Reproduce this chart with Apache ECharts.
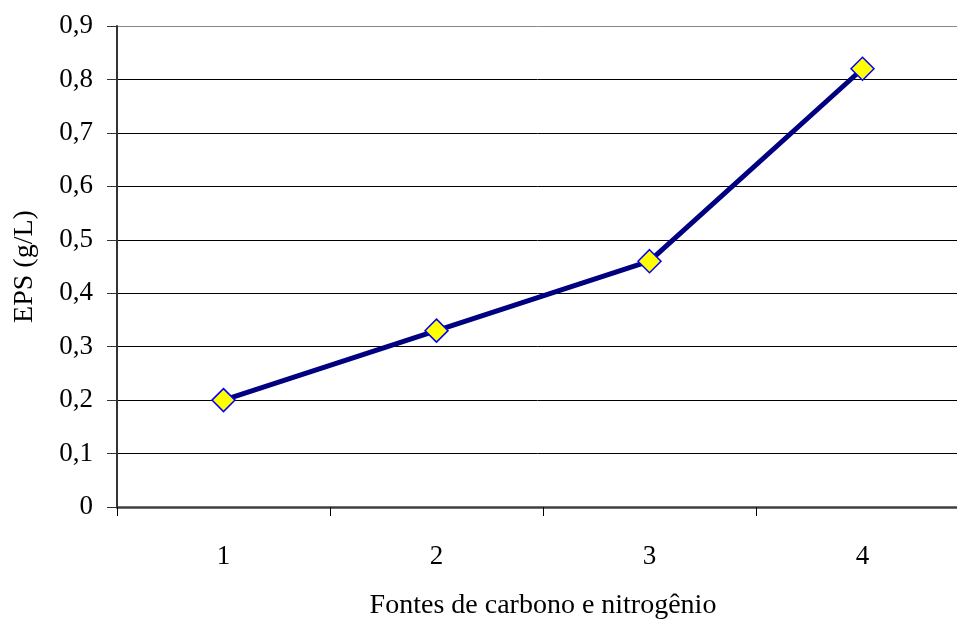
<!DOCTYPE html>
<html><head><meta charset="utf-8">
<script src="https://cdn.jsdelivr.net/npm/echarts@6/dist/echarts.min.js"></script>
<style>html,body{margin:0;padding:0;background:#fff}#c{width:957px;height:625px}</style>
</head><body><div id="c"></div>
<script>
const categories = ['1', '2', '3', '4'];
const epsValues = [0.2, 0.33, 0.46, 0.82];
const yTicks = [0, 0.1, 0.2, 0.3, 0.4, 0.5, 0.6, 0.7, 0.8, 0.9];

const chart = echarts.init(document.getElementById('c'), null, {renderer: 'canvas'});
const font = '"Liberation Serif", "Times New Roman", serif';
chart.setOption({
  animation: false,
  backgroundColor: '#fff',
  textStyle: {fontFamily: font},
  grid: {left: 117, top: 26, width: 852, height: 481, containLabel: false, outerBoundsMode: 'none'},
  xAxis: {
    type: 'category',
    data: categories,
    boundaryGap: true,
    name: 'Fontes de carbono e nitrogênio',
    nameLocation: 'middle',
    nameGap: 85,
    nameTextStyle: {fontFamily: font, fontSize: 28, color: '#000'},
    axisLine: {lineStyle: {color: '#404040', width: 2.5}},
    axisTick: {show: true, alignWithLabel: false, length: 9, lineStyle: {color: '#000', width: 1}},
    axisLabel: {fontFamily: font, fontSize: 27, color: '#000', margin: 36},
    splitLine: {show: false}
  },
  yAxis: {
    type: 'value',
    min: yTicks[0],
    max: yTicks[yTicks.length - 1],
    interval: 0.1,
    name: 'EPS (g/L)',
    nameLocation: 'middle',
    nameGap: 78,
    nameRotate: 90,
    nameTextStyle: {fontFamily: font, fontSize: 28, color: '#000'},
    axisLine: {show: true, lineStyle: {color: '#333', width: 2}},
    axisTick: {show: true, inside: false, length: 10, lineStyle: {color: '#333', width: 1}},
    axisLabel: {fontFamily: font, fontSize: 27, color: '#000', margin: 24,
      formatter: v => (Math.round(v * 10) / 10).toString().replace('.', ',')},
    splitLine: {show: true, lineStyle: {color: ['#000','#000','#000','#000','#000','#000','#000','#000','#000','#888'], width: 1}}
  },
  series: [{
    type: 'line',
    data: epsValues,
    lineStyle: {color: '#000080', width: 5},
    symbol: 'diamond',
    symbolSize: 23,
    itemStyle: {color: '#FFFF00', borderColor: '#0000FF', borderWidth: 1.5},
    z: 5
  }]
});
</script></body></html>
